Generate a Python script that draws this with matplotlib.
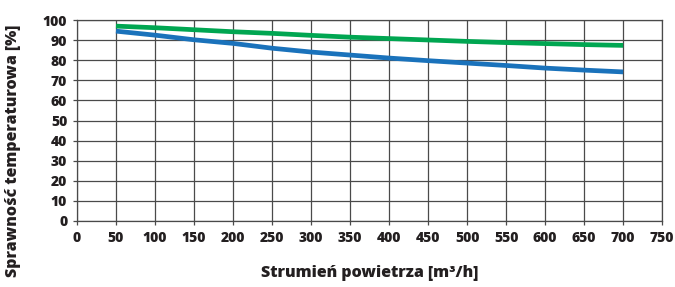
import matplotlib.pyplot as plt
import numpy as np

# data
flow = [50, 100, 150, 200, 250, 300, 350, 400, 450, 500, 550, 600, 650, 700]
eff_green = [97, 96.2, 95.2, 94.2, 93.4, 92.4, 91.5, 90.8, 90.1, 89.4, 88.8, 88.3, 87.8, 87.4]
eff_blue = [94.5, 92.5, 90.2, 88.4, 86.0, 84.1, 82.6, 81.1, 79.8, 78.6, 77.4, 76.1, 75.1, 74.2]

x_ticks = np.arange(0, 751, 50)
y_ticks = np.arange(0, 101, 10)

plt.rcParams['font.family'] = ['Open Sans', 'DejaVu Sans']

fig = plt.figure(figsize=(6.75, 2.87), dpi=100)
ax = fig.add_axes([0.114, 0.230, 0.867, 0.700])

ax.plot(flow, eff_green, color='#00a651', lw=3.4, solid_capstyle='butt', zorder=3)
ax.plot(flow, eff_blue, color='#1a72bb', lw=3.4, solid_capstyle='butt', zorder=3)

ax.set_xlim(0, 750)
ax.set_ylim(0, 100)
ax.set_xticks(x_ticks)
ax.set_yticks(y_ticks)
ax.grid(True, color='#4a4a4a', lw=0.9)
ax.set_axisbelow(True)
for s in ax.spines.values():
    s.set_color('#4a4a4a')
    s.set_linewidth(0.9)

ax.tick_params(axis='both', length=3, width=0.9, color='#4a4a4a',
               labelsize=10, labelcolor='#231f20', pad=4)
for lab in ax.get_xticklabels() + ax.get_yticklabels():
    lab.set_fontweight('heavy')

ax.set_ylabel('Sprawność temperaturowa [%]', fontsize=11.5, fontweight='heavy',
              color='#231f20')
ax.set_xlabel('Strumień powietrza [m³/h]', fontsize=11.5, fontweight='heavy',
              color='#231f20')
ax.yaxis.set_label_coords(-0.095, 0.35)
ax.xaxis.set_label_coords(0.5, -0.22)

fig.savefig('out.png', dpi=100)
